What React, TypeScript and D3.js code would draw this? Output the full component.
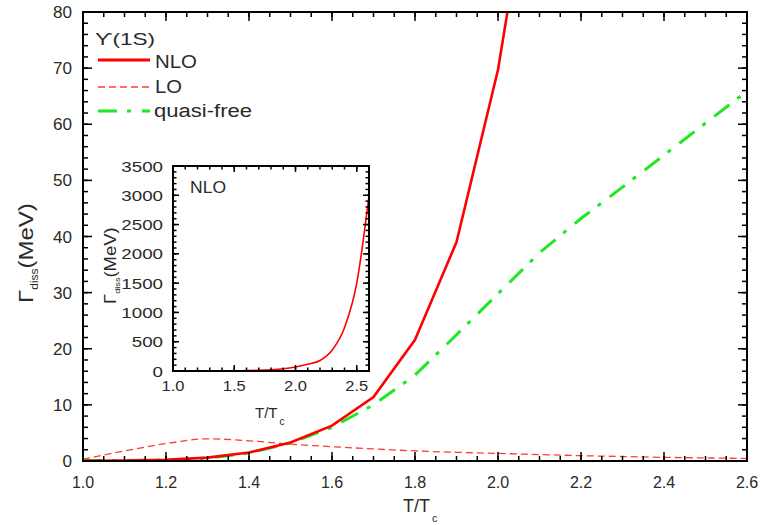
import React from 'react';
import * as d3 from 'd3';

// ---- data ----
const temps = [1.0, 1.1, 1.2, 1.3, 1.4, 1.5, 1.6, 1.7, 1.8, 1.9, 2.0, 2.1, 2.2, 2.3, 2.4, 2.5, 2.6];
const nlo = [0.05, 0.1, 0.2, 0.6, 1.5, 3.3, 6.3, 11.4, 21.6, 39.0, 69.7, 115, 180, 360, 740, 1500, 2990];
const lo = [0.3, 1.8, 3.1, 3.95, 3.6, 3.0, 2.55, 2.15, 1.8, 1.55, 1.35, 1.15, 0.95, 0.8, 0.65, 0.55, 0.45];
const quasiFree = [0.05, 0.1, 0.2, 0.5, 1.4, 3.2, 6.0, 10.0, 15.3, 22.5, 29.8, 37.1, 43.2, 48.8, 54.5, 60.2, 65.9];

const xTickLabels = ['1.0', '1.2', '1.4', '1.6', '1.8', '2.0', '2.2', '2.4', '2.6'];
const yTickLabels = ['0', '10', '20', '30', '40', '50', '60', '70', '80'];
const insetXTickLabels = ['1.0', '1.5', '2.0', '2.5'];
const insetYTickLabels = ['0', '500', '1000', '1500', '2000', '2500', '3000', '3500'];
const legendTitle = 'ϒ(1S)';
const legendLabels = ['NLO', 'LO', 'quasi-free'];
const insetTitle = 'NLO';

const FONT = '"Liberation Sans", Arial, "DejaVu Sans", sans-serif';
const RED = '#ff0000';
const GREEN = '#1ee81e';
const TXT = '#2a2a2a';

type STextProps = {
  x: number; y: number; size: number; sx?: number; anchor?: string; rotate?: number;
  fill?: string; children?: React.ReactNode; len?: number;
};
function SText({ x, y, size, sx = 1, anchor = 'start', rotate = 0, fill = TXT, children, len }: STextProps) {
  return (
    <text
      transform={`translate(${x},${y}) rotate(${rotate}) scale(${sx},1)`}
      textAnchor={anchor}
      fontSize={size}
      fill={fill}
      fontFamily={FONT}
      textLength={len}
      lengthAdjust={len ? 'spacingAndGlyphs' : undefined}
    >
      {children}
    </text>
  );
}

export default function App() {
  // main plot frame
  const L = 83, R = 747, Tp = 12, B = 461;
  const x = d3.scaleLinear().domain([1.0, 2.6]).range([L, R]);
  const y = d3.scaleLinear().domain([0, 80]).range([B, Tp]);

  // inset frame
  const iL = 173, iR = 369, iT = 166, iB = 371;
  const ix = d3.scaleLinear().domain([1.0, 2.6]).range([iL, iR]);
  const iy = d3.scaleLinear().domain([0, 3500]).range([iB, iT]);

  const pts = (vals: number[]) => temps.map((t, i) => [t, vals[i]] as [number, number]);

  const lineMain = d3.line<[number, number]>().x(d => x(d[0])).y(d => y(d[1]));
  const lineSmooth = d3.line<[number, number]>().x(d => x(d[0])).y(d => y(d[1])).curve(d3.curveMonotoneX);
  const lineInset = d3.line<[number, number]>().x(d => ix(d[0])).y(d => iy(d[1])).curve(d3.curveMonotoneX);

  const xMajor = xTickLabels.map(Number);
  const xMinor = d3.range(0, 33).map(i => 1.0 + i * 0.05);
  const yMajor = yTickLabels.map(Number);
  const yMinor = d3.range(0, 41).map(i => i * 2);

  const ixMajor = insetXTickLabels.map(Number);
  const ixMinor = d3.range(0, 17).map(i => 1.0 + i * 0.1);
  const iyMajor = insetYTickLabels.map(Number);
  const iyMinor = d3.range(0, 36).map(i => i * 100);

  const tk = { stroke: '#000', strokeWidth: 1.5 };

  return (
    <svg width={767} height={525} style={{ position: 'absolute', left: 0, top: 0, background: '#fff' }}>
      <defs>
        <clipPath id="mainClip">
          <rect x={L} y={Tp} width={R - L} height={B - Tp} />
        </clipPath>
      </defs>

      {/* main curves */}
      <g clipPath="url(#mainClip)">
        <path d={lineSmooth(pts(lo)) || ''} fill="none" stroke="#ff3a3a" strokeWidth={1.3} strokeDasharray="7,4" />
        <path d={lineMain(pts(quasiFree)) || ''} fill="none" stroke={GREEN} strokeWidth={3} strokeDasharray="19,10,4,11" />
        <path d={lineMain(pts(nlo)) || ''} fill="none" stroke={RED} strokeWidth={2.6} />
      </g>

      {/* main ticks */}
      {xMinor.map((v, i) => (
        <g key={'xm' + i}>
          <line x1={x(v)} x2={x(v)} y1={B} y2={B - 5} {...tk} />
          <line x1={x(v)} x2={x(v)} y1={Tp} y2={Tp + 5} {...tk} />
        </g>
      ))}
      {xMajor.map((v, i) => (
        <g key={'xM' + i}>
          <line x1={x(v)} x2={x(v)} y1={B} y2={B - 9} {...tk} />
          <line x1={x(v)} x2={x(v)} y1={Tp} y2={Tp + 9} {...tk} />
          <SText x={x(v)} y={488} size={16} anchor="middle">{xTickLabels[i]}</SText>
        </g>
      ))}
      {yMinor.map((v, i) => (
        <g key={'ym' + i}>
          <line x1={L} x2={L + 5} y1={y(v)} y2={y(v)} {...tk} />
          <line x1={R} x2={R - 5} y1={y(v)} y2={y(v)} {...tk} />
        </g>
      ))}
      {yMajor.map((v, i) => (
        <g key={'yM' + i}>
          <line x1={L} x2={L + 9} y1={y(v)} y2={y(v)} {...tk} />
          <line x1={R} x2={R - 9} y1={y(v)} y2={y(v)} {...tk} />
          <SText x={72} y={y(v) + 6} size={16} anchor="end" sx={1.07}>{yTickLabels[i]}</SText>
        </g>
      ))}
      <rect x={L} y={Tp} width={R - L} height={B - Tp} fill="none" stroke="#000" strokeWidth={2} />

      {/* axis titles */}
      <g transform="translate(33,303) rotate(-90) scale(1.2,1)">
        <text fontFamily={FONT} fill={TXT} fontSize={20}>
          <tspan>Γ</tspan>
          <tspan fontSize={10} dy={5}>diss</tspan>
          <tspan dy={-5}>(MeV)</tspan>
        </text>
      </g>
      <text x={403} y={512} fontFamily={FONT} fill={TXT} fontSize={18}>
        <tspan>T/T</tspan>
        <tspan fontSize={11} dy={10} dx={2}>c</tspan>
      </text>

      {/* legend */}
      <SText x={95} y={45} size={17} len={60}>{legendTitle}</SText>
      <line x1={98} x2={150} y1={60} y2={60} stroke={RED} strokeWidth={3} />
      <SText x={155} y={68} size={18} len={42}>{legendLabels[0]}</SText>
      <line x1={98} x2={150} y1={87} y2={87} stroke="#ff3a3a" strokeWidth={1.3} strokeDasharray="7,4" />
      <SText x={155} y={93} size={18} len={27}>{legendLabels[1]}</SText>
      <line x1={98} x2={150} y1={111} y2={111} stroke={GREEN} strokeWidth={3} strokeDasharray="19,10,4,11" />
      <SText x={154} y={117} size={18} len={98}>{legendLabels[2]}</SText>

      {/* inset */}
      <rect x={iL} y={iT} width={iR - iL} height={iB - iT} fill="#fff" />
      <path d={lineInset(pts(nlo)) || ''} fill="none" stroke={RED} strokeWidth={1.6} />
      {ixMinor.map((v, i) => (
        <g key={'ixm' + i}>
          <line x1={ix(v)} x2={ix(v)} y1={iB} y2={iB - 3.5} {...tk} />
          <line x1={ix(v)} x2={ix(v)} y1={iT} y2={iT + 3.5} {...tk} />
        </g>
      ))}
      {ixMajor.map((v, i) => (
        <g key={'ixM' + i}>
          <line x1={ix(v)} x2={ix(v)} y1={iB} y2={iB - 6} {...tk} />
          <line x1={ix(v)} x2={ix(v)} y1={iT} y2={iT + 6} {...tk} />
          <SText x={ix(v)} y={391} size={15} anchor="middle" sx={1.1}>{insetXTickLabels[i]}</SText>
        </g>
      ))}
      {iyMinor.map((v, i) => (
        <g key={'iym' + i}>
          <line x1={iL} x2={iL + 3.5} y1={iy(v)} y2={iy(v)} {...tk} />
          <line x1={iR} x2={iR - 3.5} y1={iy(v)} y2={iy(v)} {...tk} />
        </g>
      ))}
      {iyMajor.map((v, i) => (
        <g key={'iyM' + i}>
          <line x1={iL} x2={iL + 6} y1={iy(v)} y2={iy(v)} {...tk} />
          <line x1={iR} x2={iR - 6} y1={iy(v)} y2={iy(v)} {...tk} />
          <SText x={163} y={iy(v) + 5.5} size={15} anchor="end" sx={1.25}>{insetYTickLabels[i]}</SText>
        </g>
      ))}
      <rect x={iL} y={iT} width={iR - iL} height={iB - iT} fill="none" stroke="#000" strokeWidth={2} />
      <SText x={190} y={193} size={16} len={36}>{insetTitle}</SText>
      <g transform="translate(116,304) rotate(-90) scale(1.15,1)">
        <text fontFamily={FONT} fill={TXT} fontSize={16}>
          <tspan>Γ</tspan>
          <tspan fontSize={8} dy={4}>diss</tspan>
          <tspan dy={-4}>(MeV)</tspan>
        </text>
      </g>
      <text x={255} y={418} fontFamily={FONT} fill={TXT} fontSize={15}>
        <tspan>T/T</tspan>
        <tspan fontSize={10} dy={7} dx={2}>c</tspan>
      </text>
    </svg>
  );
}
